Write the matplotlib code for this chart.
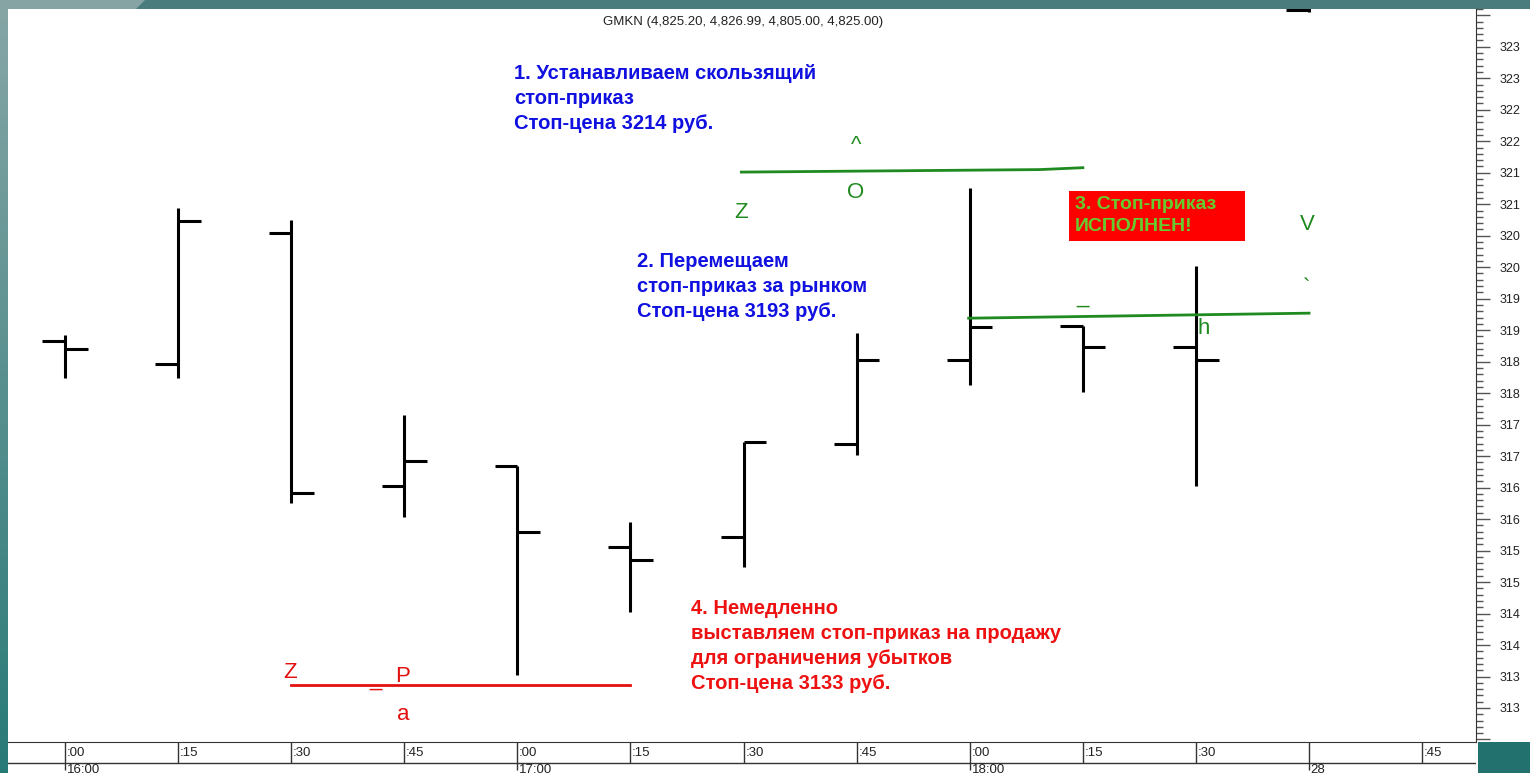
import numpy as np
import matplotlib
matplotlib.use('Agg')
import matplotlib.pyplot as plt
from matplotlib.ticker import MultipleLocator, FuncFormatter
from matplotlib.patches import Rectangle, Polygon

plt.rcParams['font.family'] = ['Liberation Sans', 'DejaVu Sans']

# 15-minute OHLC bars, GMKN
minute_labels = [':00', ':15', ':30', ':45', ':00', ':15', ':30', ':45', ':00', ':15', ':30', '', ':45']
hour_labels = {0: '16:00', 4: '17:00', 8: '18:00', 11: '28'}
opens = [3188.3, 3184.6, 3205.5, 3165.3, 3168.4, 3155.6, 3157.2, 3171.9, 3185.3, 3190.7, 3187.3, 3240.8]
highs = [3189.3, 3209.4, 3207.5, 3176.5, 3168.4, 3159.5, 3172.3, 3189.6, 3212.6, 3190.7, 3200.2, 3246.0]
lows = [3182.4, 3182.4, 3162.6, 3160.3, 3135.2, 3145.2, 3152.4, 3170.2, 3181.3, 3180.2, 3165.3, 3240.6]
closes = [3187.0, 3207.4, 3164.1, 3169.2, 3158.0, 3153.5, 3172.3, 3185.3, 3190.5, 3187.3, 3185.3, 3244.0]

# hand-drawn stop levels (bar index, price)
stop1_x = [5.98, 8.62, 9.0]
stop1_y = [3215.1, 3215.5, 3215.8]
stop2_x = [7.99, 11.0]
stop2_y = [3191.9, 3192.7]
sell_x = [2.0, 5.0]
sell_y = [3133.6, 3133.6]

W, H = 1530, 773
TEAL = '#4a7c7e'


def fx(px):
    return px / W


def fy(py):
    return 1 - py / H


fig = plt.figure(figsize=(W / 100, H / 100), dpi=100)
fig.patch.set_facecolor(TEAL)

# background frame
bg = fig.add_axes([0, 0, 1, 1], zorder=-10)
bg.set_xlim(0, W)
bg.set_ylim(H, 0)
bg.axis('off')
grad = np.linspace(0, 1, 200)[:, None]
c_top = np.array([0.53, 0.65, 0.65])
c_bot = np.array([0.16, 0.48, 0.47])
strip = c_top + (c_bot - c_top) * grad
bg.imshow(strip[:, None, :].repeat(2, axis=1), extent=(0, 8, H, 0), aspect='auto')
bg.add_patch(Polygon([(0, 0), (145, 0), (136, 9), (0, 9)], closed=True, color='#87a4a4', lw=0))
bg.add_patch(Rectangle((8, 9), W - 8, 742 - 9, color='white', lw=0))
bg.add_patch(Rectangle((8, 742), 1478 - 8, H - 742, color='white', lw=0))
bg.add_patch(Rectangle((1478, 742), W - 1478, H - 742, color='#22716f', lw=0))

# main price axes
ax = fig.add_axes([fx(8), fy(742), fx(1476) - fx(8), fy(9) - fy(742)])
ax.set_facecolor('white')
ax.set_xlim(-0.504, 12.476)
ax.set_ylim(3124.6, 3241.0)
for s in ['left', 'top']:
    ax.spines[s].set_visible(False)
ax.spines['right'].set_color('#333333')
ax.spines['bottom'].set_color('#333333')
ax.set_xticks([])
ax.yaxis.tick_right()
ax.yaxis.set_major_locator(MultipleLocator(5))
ax.yaxis.set_minor_locator(MultipleLocator(1))
ax.yaxis.set_major_formatter(FuncFormatter(
    lambda v, p: f'{v:.0f}'[:3] if 3129 < v < 3236 else ''))
ax.tick_params(axis='y', which='major', length=10, width=1, color='#555555',
               labelsize=9, pad=7, labelcolor='#222222')
ax.tick_params(axis='y', which='minor', length=5, width=1, color='#555555')

x = np.arange(len(opens))
ax.vlines(x, lows, highs, color='black', lw=2.2)
ax.hlines(opens, x - 0.2, x, color='black', lw=2.2)
ax.hlines(closes, x, x + 0.2, color='black', lw=2.2)

ax.plot(stop1_x, stop1_y, color='#1f8a1f', lw=2)
ax.plot(stop2_x, stop2_y, color='#1f8a1f', lw=2)
ax.plot(sell_x, sell_y, color='#e31010', lw=2)

# time axis
axb = fig.add_axes([fx(8), fy(773), fx(1476) - fx(8), fy(742) - fy(773)])
axb.set_xlim(-0.504, 12.476)
axb.set_ylim(31, 0)
axb.axis('off')
axb.axhline(21, color='#333333', lw=1)
for i, lab in enumerate(minute_labels):
    axb.vlines(i, 0, 21, color='#333333', lw=1)
    axb.text(i + 0.015, 11, lab, fontsize=9.5, color='#222222', va='center', ha='left')
for i, lab in hour_labels.items():
    axb.vlines(i, 21, 28, color='#333333', lw=1)
    axb.text(i + 0.015, 22, lab, fontsize=9.5, color='#222222', va='top', ha='left')

# title and notes
fig.text(fx(743), fy(22), 'GMKN (4,825.20, 4,826.99, 4,805.00, 4,825.00)',
         fontsize=9.5, ha='center', va='center', color='#222222')

BLUE = '#1010e0'
note = dict(fontsize=14.5, fontweight='bold', ha='left', va='top', linespacing=1.4)
fig.text(fx(514), fy(64), '1. Устанавливаем скользящий\nстоп-приказ\nСтоп-цена 3214 руб.',
         color=BLUE, **note)
fig.text(fx(637), fy(252), '2. Перемещаем\nстоп-приказ за рынком\nСтоп-цена 3193 руб.',
         color=BLUE, **note)
fig.text(fx(691), fy(599), '4. Немедленно\nвыставляем стоп-приказ на продажу\nдля ограничения убытков\nСтоп-цена 3133 руб.',
         color='#ee1111', **note)

fig.patches.append(Rectangle((fx(1069), fy(241)), fx(1245) - fx(1069), fy(191) - fy(241),
                             transform=fig.transFigure, color='#ff0000', lw=0, zorder=2))
fig.text(fx(1075), fy(196), '3. Стоп-приказ\nИСПОЛНЕН!', color='#66cc2e', zorder=3,
         fontsize=14, fontweight='bold', ha='left', va='top', linespacing=1.36)

GREEN = '#1f8a1f'
for ch, px, py in [('^', 856, 145), ('O', 856, 192), ('Z', 741, 213), ('V', 1307, 225),
                   ('`', 1307, 288), ('_', 1083, 297), ('h', 1204, 328)]:
    fig.text(fx(px), fy(py), ch, fontsize=16, color=GREEN, ha='center', va='center')
for ch, px, py in [('Z', 290, 673), ('P', 403, 677), ('a', 403, 714), ('_', 376, 680)]:
    fig.text(fx(px), fy(py), ch, fontsize=16, color='#e31010', ha='center', va='center')

fig.savefig('out.png', dpi=100, facecolor=fig.get_facecolor())
